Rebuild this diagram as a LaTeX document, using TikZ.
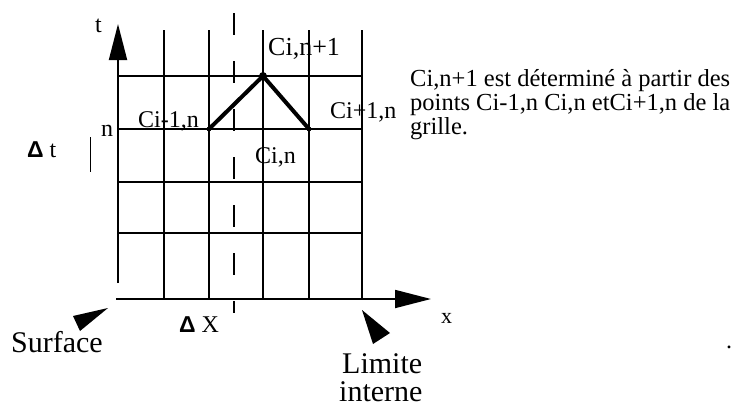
\documentclass[tikz,border=0pt]{standalone}
\usepackage{fontspec}
\setmainfont{Liberation Serif}
\newfontfamily\deltafont{Liberation Sans}
\usetikzlibrary{arrows.meta}
\newcommand{\DeltaSym}{{\deltafont\bfseries\fontsize{23}{23}\selectfont Δ}}

\begin{document}
\begin{tikzpicture}[x=1pt,y=-1pt,
 gridline/.style={line width=1.6pt},
 axis/.style={line width=1.8pt,-{Triangle[length=36pt,width=18pt]}},
 stencil/.style={line width=4pt,line cap=round},
 midline/.style={line width=1.6pt,dash pattern=on 22pt off 26pt},
 wedge/.style={fill=black},
 lab/.style={anchor=base west,inner sep=0pt,font=\fontsize{24}{24}\selectfont},
 big/.style={anchor=base west,inner sep=0pt,font=\fontsize{30}{32}\selectfont},
 % a multi-line node sits on the baseline of its last line
 note/.style={anchor=base west,inner sep=0pt,align=left,
   font=\fontsize{24.5}{24}\selectfont}]
\useasboundingbox (0,0) rectangle (736,407);

% Axes meet at the surface corner of the grid.
\coordinate (O) at (118,299);
\coordinate (tStart) at (118,283);
\coordinate (tEnd) at (118,24);
\coordinate (xStart) at (116,299);
\coordinate (xEnd) at (431,299);

% Grid: five time levels drawn across, five space nodes drawn up.
\draw[gridline] (118,76)--(362,76) (118,129)--(362,129)
 (118,182)--(362,182) (118,233)--(362,233);
\draw[gridline] (164,30)--(164,299) (209,30)--(209,299)
 (263,30)--(263,299) (309,30)--(309,299) (362,30)--(362,299);
\draw[axis] (tStart)--(tEnd);
\draw[axis] (xStart)--(xEnd);

% Broken line through the middle of the step.
\coordinate (midTop) at (234,13);
\coordinate (midBot) at (234,313);
\draw[midline] (midTop)--(midBot);
\coordinate (dtTop) at (90,137);
\coordinate (dtBot) at (90,172);
\draw[line width=1pt] (dtTop)--(dtBot);

% Explicit stencil: two old points give the new one.
\coordinate (Cm) at (209,129);
\coordinate (Cp) at (309,129);
\coordinate (Cn) at (263,76);
\draw[stencil] (Cm)--(Cn)--(Cp);
\fill (Cn) circle (4pt);
\fill (Cm) circle (2.4pt);
\fill (Cp) circle (2.4pt);

% Pointers to both boundaries.
\fill[wedge] (108,308)--(73,316)--(80,331)--cycle;
\fill[wedge] (362,310)--(390,333)--(373,344)--cycle;

\node[lab] (tLab) at (95,32) {t};
\node[lab] (nLab) at (101,136) {n};
\node[lab,font=\fontsize{26}{26}\selectfont] (CnLab) at (268,55) {Ci,n+1};
\node[lab] (CmLab) at (138,127) {Ci-1,n};
\node[lab] (CpLab) at (330,118) {Ci+1,n};
\node[lab] (CiLab) at (255,163) {Ci,n};
\node[lab] (dtLab) at (27,157) {\DeltaSym\ t};
\node[lab] (dxLab) at (179,332) {\DeltaSym\ X};
\node[lab,font=\fontsize{22}{22}\selectfont] (xLab) at (441,323) {x};

\node[big] (surf) at (11,352) {Surface};
\node[big] (lim1) at (342,373) {Limite};
\node[big] (lim2) at (339,401) {interne};

\node[note] (txt) at (410,134) {Ci,n+1 est déterminé à partir des\\
 points Ci-1,n Ci,n etCi+1,n de la\\ grille.};
\node[lab] (dot) at (726,348) {.};
\end{tikzpicture}
\end{document}
